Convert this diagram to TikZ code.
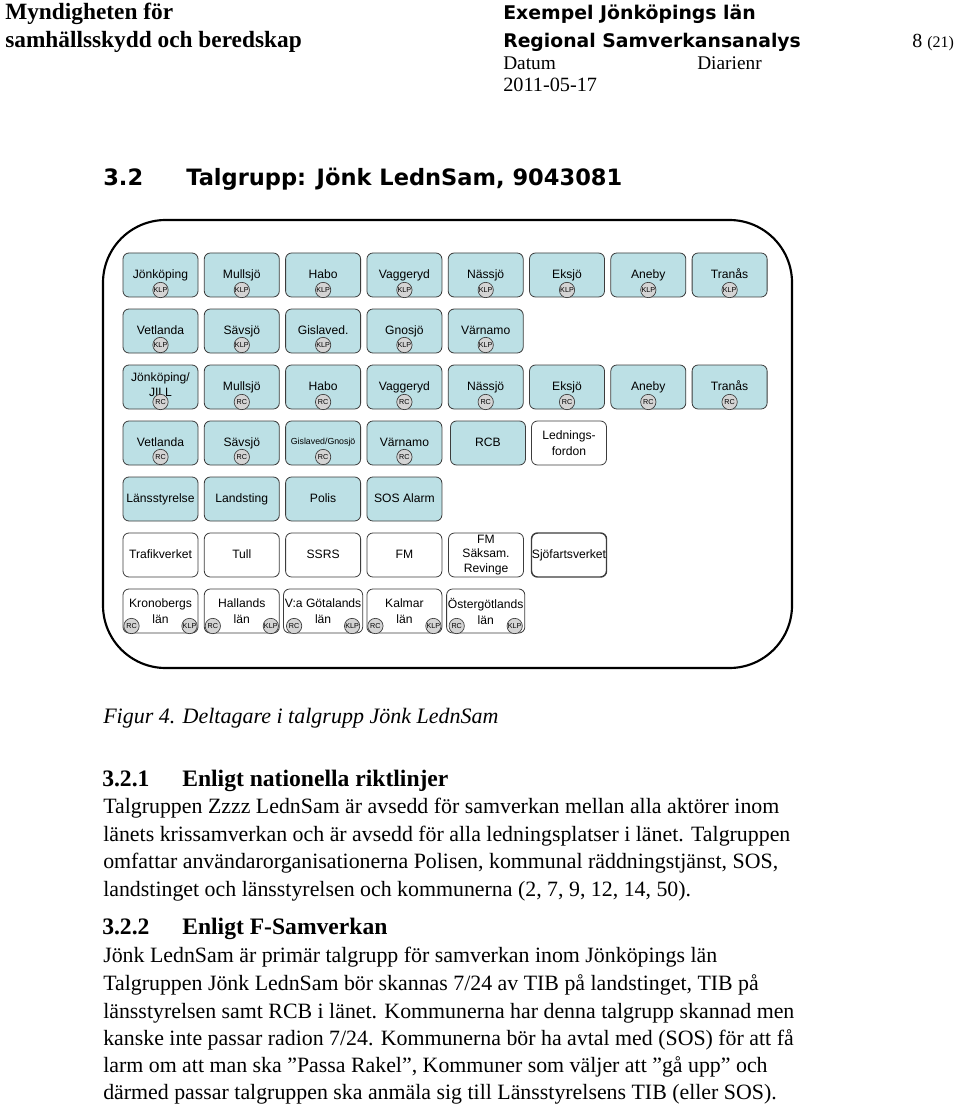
\documentclass[tikz,border=0pt]{standalone}
\usepackage{fontspec}
\setmainfont{Liberation Serif}
\setsansfont{Liberation Sans}
\newfontfamily\dvsb{DejaVu Sans}[BoldFont={DejaVu Sans Bold}]
\definecolor{boxblue}{RGB}{188,224,229}
\definecolor{boxline}{RGB}{60,60,60}
\definecolor{tagfill}{RGB}{212,212,212}
\newcommand\mystrut{\vphantom{Äg}}
\begin{document}
\begin{tikzpicture}[x=0.75pt,y=-0.75pt,
  ubox/.style={draw=boxline, fill=boxblue, rounded corners=4.5pt, line width=0.6pt,
    minimum width=56.25pt, minimum height=33pt, inner sep=1pt, align=center,
    font=\sffamily\fontsize{9.1}{11.5}\selectfont},
  wbox/.style={ubox, fill=white},
  tag/.style={circle, draw=boxline, fill=tagfill, line width=0.5pt, minimum size=11.5pt,
    inner sep=0pt, font=\sffamily\fontsize{5.4}{6}\selectfont},
  txt/.style={anchor=base west, inner sep=0pt},
  body/.style={txt, font=\fontsize{16.4}{19}\selectfont},
  hd/.style={txt, font=\bfseries\fontsize{17.7}{20}\selectfont}]
\useasboundingbox (0,0) rectangle (960,1105);
\fill[white] (0,0) rectangle (960,1105);

% header
\node[txt, font=\bfseries\fontsize{17.5}{20}\selectfont] (h1) at (5,20) {Myndigheten för};
\node[txt, font=\bfseries\fontsize{17.5}{20}\selectfont] (h2) at (5,48) {samhällsskydd och beredskap};
\node[txt, font=\dvsb\bfseries\fontsize{14.15}{16}\selectfont] (h3) at (503,20) {Exempel Jönköpings län};
\node[txt, font=\dvsb\bfseries\fontsize{14.1}{16}\selectfont] (h4) at (503,48) {Regional Samverkansanalys};
\node[txt, font=\fontsize{15}{17}\selectfont] (h5) at (912,48) {8 {\fontsize{12}{14}\selectfont(21)}};
\node[txt, font=\fontsize{14.5}{17}\selectfont] (h6) at (503,70) {Datum};
\node[txt, font=\fontsize{14.5}{17}\selectfont] (h7) at (697,70) {Diarienr};
\node[txt, font=\fontsize{15.2}{17}\selectfont] (h8) at (503,92) {2011-05-17};

% section heading
\node[txt, font=\dvsb\bfseries\fontsize{16.9}{20}\selectfont] (s1) at (103,186) {3.2};
\node[txt, font=\dvsb\bfseries\fontsize{16.9}{20}\selectfont] (s2) at (186,186) {Talgrupp: Jönk LednSam, 9043081};

% frame
\draw[line width=1.6pt, rounded corners=47pt] (103,220) rectangle (792,668);

% row 1
\foreach \t [count=\i from 0] in {Jönköping,Mullsjö,Habo,Vaggeryd,Nässjö,Eksjö,Aneby,Tranås}{
  \node[ubox] (a\i) at ({160.5+81.3*\i},275) {\mystrut\t};
  \node[tag] (ka\i) at ({160.5+81.3*\i},290) {KLP};
}
% row 2
\foreach \t [count=\i from 0] in {Vetlanda,Sävsjö,Gislaved.,Gnosjö,Värnamo}{
  \node[ubox] (b\i) at ({160.5+81.3*\i},331) {\mystrut\t};
  \node[tag] (kb\i) at ({160.5+81.3*\i},345) {KLP};
}
% row 3
\node[ubox] (c0) at (160.5,387) {\raisebox{3pt}{\shortstack{Jönköping/\\JILL}}};
\foreach \t [count=\i from 1] in {Mullsjö,Habo,Vaggeryd,Nässjö,Eksjö,Aneby,Tranås}{
  \node[ubox] (c\i) at ({160.5+81.3*\i},387) {\mystrut\t};
}
\foreach \i in {0,...,7}{
  \node[tag] (kc\i) at ({160.5+81.3*\i},402) {RC};
}
% row 4
\node[ubox] (d0) at (160.5,443) {\mystrut Vetlanda};
\node[ubox] (d1) at (241.8,443) {\mystrut Sävsjö};
\node[ubox] (d2) at (323.1,443) {\raisebox{2pt}{\fontsize{6.6}{8}\selectfont Gislaved/Gnosjö}};
\node[ubox] (d3) at (404.4,443) {\mystrut Värnamo};
\foreach \i in {0,...,3}{
  \node[tag] (kd\i) at ({160.5+81.3*\i},457) {RC};
}
\node[ubox] (d4) at (488,443) {\mystrut RCB};
\node[wbox] (d5) at (569,443) {Lednings-\\fordon};
% row 5
\foreach \t [count=\i from 0] in {Länsstyrelse,Landsting,Polis,SOS Alarm}{
  \node[ubox] (e\i) at ({160.5+81.3*\i},499) {\mystrut\t};
}
% row 6
\foreach \t [count=\i from 0] in {Trafikverket,Tull,SSRS,FM}{
  \node[wbox] (f\i) at ({160.5+81.3*\i},555) {\mystrut\t};
}
\node[wbox, font=\sffamily\fontsize{9.1}{10.8}\selectfont] (f4) at (486,555) {FM\\Säksam.\\Revinge};
\node[wbox, line width=1.1pt, inner sep=0pt] (f5) at (569,555) {\mystrut Sjöfartsverket};
% row 7
\foreach \t [count=\i from 0] in {Kronobergs,Hallands,V:a Götalands,Kalmar,Östergötlands}{
  \node[wbox, font=\sffamily\fontsize{9.1}{12}\selectfont] (g\i) at ({160.5+81.3*\i},611) {\t\\län};
  \node[tag] (gr\i) at ({160.5+81.3*\i-29},626) {RC};
  \node[tag] (gk\i) at ({160.5+81.3*\i+29},626) {KLP};
}

% caption
\node[txt, font=\itshape\fontsize{16.5}{19}\selectfont] (cap) at (103,723) {Figur 4. Deltagare i talgrupp Jönk LednSam};

% 3.2.1
\node[hd] (n1) at (102,786) {3.2.1};
\node[hd] (n2) at (182,786) {Enligt nationella riktlinjer};
\node[body] (l1) at (103,813) {Talgruppen Zzzz LednSam är avsedd för samverkan mellan alla aktörer inom};
\node[body] (l2) at (103,841) {länets krissamverkan och är avsedd för alla ledningsplatser i länet. Talgruppen};
\node[body] (l3) at (103,868) {omfattar användarorganisationerna Polisen, kommunal räddningstjänst, SOS,};
\node[body] (l4) at (103,896) {landstinget och länsstyrelsen och kommunerna (2, 7, 9, 12, 14, 50).};

% 3.2.2
\node[hd] (m1) at (102,934) {3.2.2};
\node[hd] (m2) at (182,934) {Enligt F-Samverkan};
\node[body] (k1) at (103,962) {Jönk LednSam är primär talgrupp för samverkan inom Jönköpings län};
\node[body] (k2) at (103,990) {Talgruppen Jönk LednSam bör skannas 7/24 av TIB på landstinget, TIB på};
\node[body] (k3) at (103,1018) {länsstyrelsen samt RCB i länet. Kommunerna har denna talgrupp skannad men};
\node[body] (k4) at (103,1045) {kanske inte passar radion 7/24. Kommunerna bör ha avtal med (SOS) för att få};
\node[body] (k5) at (103,1072) {larm om att man ska ”Passa Rakel”, Kommuner som väljer att ”gå upp” och};
\node[body] (k6) at (103,1099) {därmed passar talgruppen ska anmäla sig till Länsstyrelsens TIB (eller SOS).};
\end{tikzpicture}
\end{document}
